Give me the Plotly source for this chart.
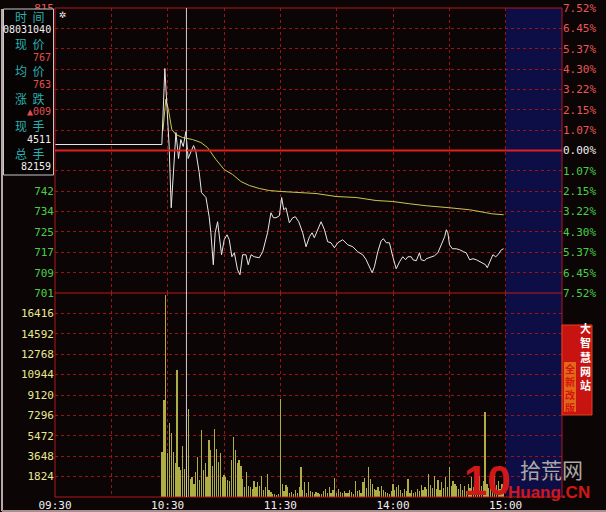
import plotly.graph_objects as go

W, H = 606, 512

# ---------------- data ----------------
BASE_PRICE = 758
PCT_STEPS = [-7.52, -6.45, -5.37, -4.30, -3.22, -2.15, -1.07, 0.00,
             1.07, 2.15, 3.22, 4.30, 5.37, 6.45, 7.52]
PRICE_LABELS = ["701", "709", "717", "725", "734", "742", "750", "758",
                "766", "774", "782", "791", "799", "807", "815"]
PCT_LABELS = ["7.52%", "6.45%", "5.37%", "4.30%", "3.22%", "2.15%", "1.07%", "0.00%",
              "1.07%", "2.15%", "3.22%", "4.30%", "5.37%", "6.45%", "7.52%"]

VOL_TICKS = [1824, 3648, 5472, 7296, 9120, 10944, 12768, 14592, 16416]
VOL_LABELS = ["1824", "3648", "5472", "7296", "9120", "10944", "12768", "14592", "16416"]
VOL_MAX = 18240

TIME_GRID = [0, 30, 60, 90, 120, 150, 180, 210, 240, 270]
TIME_LABELS = ["09:30", "", "10:30", "", "11:30", "", "14:00", "", "15:00", ""]
SESSION_END = 240
AXIS_END = 270
CURSOR_T = 70

# minutes after 09:30 / price (x0.01 yuan)
PRICE_T = [0, 56.9, 58.5, 59.4, 60.8, 61.9, 63.8, 64.4, 65.8, 67.0, 68.3, 69.7, 70.9, 72.4,
           73.8, 75.0, 76.8, 78.0, 80.4, 82.1, 83.0, 84.3, 85.3, 86.6, 87.8, 88.7, 90.1,
           91.6, 92.8, 94.2, 95.5, 97.2, 98.5, 99.9, 101.7, 102.9, 104.4, 106.1, 108.8,
           110.6, 113.2, 115.0, 116.3, 117.7, 119.5, 120.7, 121.8, 123.0, 124.8, 126.6,
           128.0, 129.8, 131.9, 133.7, 135.5, 136.9, 138.1, 139.9, 141.7, 143.5, 145.2,
           147.0, 148.8, 150.6, 153.2, 155.9, 158.6, 161.2, 163.9, 165.7, 167.5, 168.9,
           170.1, 171.9, 173.7, 174.9, 176.4, 178.1, 179.9, 181.7, 183.5, 185.2, 186.7,
           187.9, 189.7, 190.6, 192.4, 194.1, 195.0, 196.8, 197.7, 200.4, 202.1, 203.9,
           205.7, 207.5, 208.4, 209.2, 210.1, 211.6, 213.7, 215.5, 217.6, 219.0, 220.8,
           222.6, 224.4, 226.1, 227.9, 229.3, 230.2, 231.5, 232.4, 233.2, 234.7, 235.9,
           237.7, 238.9]
PRICE_V = [760.4, 760.4, 790.8, 778.5, 759.6, 735.1, 755.6, 765.2, 754.8, 762.4, 759.6, 765.6,
           754.8, 757.6, 760.0, 757.6, 749.2, 741.2, 739.2, 731.5, 725.1, 712.3, 725.1, 729.5,
           720.3, 716.3, 722.3, 724.3, 722.3, 715.5, 717.1, 710.3, 708.3, 716.3, 716.3, 712.3,
           716.3, 715.5, 715.1, 717.5, 725.1, 733.1, 731.1, 731.1, 731.9, 739.2, 734.3, 735.1,
           729.1, 731.1, 731.5, 729.5, 725.1, 719.5, 723.5, 725.1, 723.1, 726.3, 729.5, 726.3,
           721.5, 721.1, 719.1, 721.1, 722.3, 720.3, 719.5, 717.5, 716.3, 714.3, 711.1, 709.1,
           711.5, 717.5, 721.9, 722.7, 721.1, 721.1, 715.5, 710.7, 713.5, 715.5, 714.3, 715.5,
           715.5, 714.3, 713.9, 717.1, 714.3, 713.9, 714.7, 715.5, 715.9, 717.1, 720.3, 723.5,
           726.3, 725.1, 720.3, 718.7, 718.7, 718.3, 717.5, 717.1, 714.3, 714.7, 714.3, 713.5,
           712.7, 712.3, 711.1, 713.5, 715.5, 716.3, 715.5, 716.3, 718.3, 718.7]

AVG_T = [57.5, 59.0, 60.4, 62.2, 64.4, 67.9, 73.2, 77.7, 81.2, 85.7, 90.1, 94.6, 99.0, 103.5,
         108.8, 114.1, 120.4, 130.1, 139.0, 149.7, 160.4, 171.0, 179.9, 188.8, 197.7, 210.1,
         220.8, 229.7, 232.4, 238.9]
AVG_V = [766.0, 778.5, 774.4, 766.4, 764.4, 763.2, 762.4, 761.2, 759.2, 754.4, 750.4, 748.4,
         745.6, 744.0, 742.8, 742.0, 741.6, 741.2, 740.8, 739.6, 739.2, 738.0, 737.6, 736.7,
         735.9, 735.1, 734.3, 733.1, 732.7, 732.3]

VOL_START = 57
VOL = [4000, 8700, 18100, 3900, 6600, 5700, 4000, 3000, 11400, 2700, 2400, 4600, 2500, 4500,
       7900, 1600, 1800, 1200, 2200, 3600, 1500, 6000, 2400, 3000, 1800, 5100, 4200, 2800,
       6100, 4300, 3100, 3900, 1800, 2000, 1800, 1500, 1400, 3300, 5400, 4200, 3000, 3300,
       2800, 1600, 900, 2200, 1000, 900, 700, 1400, 900, 1300, 1000, 1900, 650, 850, 2100,
       600, 450, 250, 300, 200, 250, 8800, 1200, 500, 1100, 900, 400, 450, 300, 600, 350,
       900, 2700, 650, 1300, 400, 1300, 500, 450, 300, 450, 350, 250, 300, 500, 750, 400,
       900, 350, 600, 1700, 400, 750, 450, 350, 500, 400, 350, 600, 450, 300, 1400, 500,
       650, 400, 1300, 1700, 800, 2700, 1600, 1200, 700, 600, 900, 500, 1000, 600, 450, 350,
       300, 500, 1200, 600, 900, 1100, 650, 400, 750, 500, 1600, 400, 600, 350, 450, 750,
       500, 1100, 600, 900, 700, 2100, 1100, 800, 1900, 700, 1500, 600, 1300, 800, 1800,
       900, 2700, 1000, 1400, 1200, 1000, 700, 1200, 600, 950, 500, 1200, 800, 1800, 900,
       2200, 1300, 1900, 1000, 1400, 7600, 1200, 800, 1500, 900, 2000, 1100, 1400, 700,
       1200, 900]
VOL_T = [VOL_START + i for i in range(len(VOL))]

INFO_ROWS = [("时  间", "08031040", "#f0f0f0"),
             ("现  价", "767", "#e05050"),
             ("均  价", "763", "#e05050"),
             ("涨  跌", "▲009", "#e05050"),
             ("现  手", "4511", "#f0f0f0"),
             ("总  手", "82159", "#f0f0f0")]

# ---------------- styling helpers ----------------
BG = "#0c0505"
GRID = "#9a1414"
RED_LBL = "#e85858"
GRN_LBL = "#48d048"
WHT_LBL = "#f0f0f0"
YEL_LBL = "#e8e890"
MONO = "DejaVu Sans Mono"
CJK = "Noto Sans CJK SC"


def px(x):
    return x / W


def py(y):
    return 1 - y / H


PLOT_L, PLOT_R = 55, 562
PRICE_TOP, PRICE_BOT, VOL_BOT = 8, 293, 497
BOX_TOP, BOX_BOT = 9, 175

price_ticks = [BASE_PRICE * (1 + p / 100) for p in PCT_STEPS]


def price_to_px(v):
    lo, hi = price_ticks[0], price_ticks[-1]
    return PRICE_BOT - (v - lo) / (hi - lo) * (PRICE_BOT - PRICE_TOP)


pct_text, price_text = [], []
for p, lab, plab, v in zip(PCT_STEPS, PCT_LABELS, PRICE_LABELS, price_ticks):
    c = RED_LBL if p > 0 else (WHT_LBL if p == 0 else GRN_LBL)
    pct_text.append(f'<span style="color:{c}">{lab}</span>')
    yy = price_to_px(v)
    hidden = BOX_TOP < yy < BOX_BOT  # covered by the info box in the reference
    price_text.append("" if hidden else f'<span style="color:{c}">{plab}</span>')

fig = go.Figure()

fig.add_trace(go.Bar(x=VOL_T, y=VOL, xaxis="x2", yaxis="y2", width=0.65,
                     marker=dict(color="#aeae44", line=dict(width=0)), hoverinfo="skip"))
fig.add_trace(go.Scatter(x=AVG_T, y=AVG_V, mode="lines", xaxis="x", yaxis="y",
                         line=dict(color="#c8c850", width=1), hoverinfo="skip"))
fig.add_trace(go.Scatter(x=PRICE_T, y=PRICE_V, mode="lines", xaxis="x", yaxis="y",
                         line=dict(color="#e8e8e8", width=1), hoverinfo="skip"))
fig.add_trace(go.Scatter(x=[None], y=[None], xaxis="x", yaxis="y3", hoverinfo="skip"))

xdom = [px(PLOT_L), px(PLOT_R)]
common_x = dict(range=[0, AXIS_END], tickvals=TIME_GRID, showgrid=True, gridcolor=GRID,
                griddash="dot", gridwidth=1, zeroline=False, showline=False, ticks="",
                automargin=False, fixedrange=True)

fig.update_layout(
    width=W, height=H, margin=dict(l=0, r=0, t=0, b=0),
    paper_bgcolor=BG, plot_bgcolor=BG, showlegend=False, bargap=0, hovermode=False,
    xaxis=dict(domain=xdom, anchor="y", showticklabels=False, **common_x),
    xaxis2=dict(domain=xdom, anchor="y2", matches="x", ticktext=TIME_LABELS,
                showticklabels=True, tickfont=dict(family=MONO, size=11, color="#f0f0f0"),
                **common_x),
    yaxis=dict(domain=[py(PRICE_BOT), py(PRICE_TOP)], range=[price_ticks[0], price_ticks[-1]],
               tickvals=price_ticks, ticktext=price_text, showgrid=True, gridcolor=GRID,
               griddash="dot", zeroline=False, ticks="", automargin=False, fixedrange=True,
               tickfont=dict(family=MONO, size=11), anchor="x"),
    yaxis3=dict(overlaying="y", side="right", anchor="x", range=[price_ticks[0], price_ticks[-1]],
                tickvals=price_ticks, ticktext=pct_text, showgrid=False, zeroline=False,
                ticks="", automargin=False, fixedrange=True, tickfont=dict(family=MONO, size=11)),
    yaxis2=dict(domain=[py(VOL_BOT), py(PRICE_BOT)], range=[0, VOL_MAX], tickvals=VOL_TICKS,
                ticktext=VOL_LABELS, showgrid=True, gridcolor=GRID, griddash="dot",
                zeroline=False, ticks="", automargin=False, anchor="x2", fixedrange=True,
                tickfont=dict(family=MONO, size=11, color=YEL_LBL)),
)

shapes = []
# after-close region (blue)
for xr, yr in (("x", "y domain"), ("x2", "y2 domain")):
    shapes.append(dict(type="rect", xref=xr, yref=yr, x0=SESSION_END, x1=AXIS_END, y0=0, y1=1,
                       fillcolor="#0e0e46", line=dict(width=0), layer="below"))
# frame, divider, zero line
shapes.append(dict(type="rect", xref="paper", yref="paper", x0=px(PLOT_L), x1=px(PLOT_R),
                   y0=py(VOL_BOT), y1=py(PRICE_TOP), line=dict(color="#b01818", width=1)))
shapes.append(dict(type="line", xref="paper", yref="paper", x0=px(PLOT_L), x1=px(PLOT_R),
                   y0=py(PRICE_BOT), y1=py(PRICE_BOT), line=dict(color="#c01818", width=1)))
shapes.append(dict(type="line", xref="paper", yref="y", x0=px(PLOT_L), x1=px(PLOT_R),
                   y0=BASE_PRICE, y1=BASE_PRICE, line=dict(color="#e02020", width=2)))
# cursor line
shapes.append(dict(type="line", xref="x", yref="paper", x0=CURSOR_T, x1=CURSOR_T,
                   y0=py(VOL_BOT), y1=py(PRICE_TOP), line=dict(color="#d0d0d0", width=1)))
# outer window border
shapes.append(dict(type="line", xref="paper", yref="paper", x0=px(2), x1=px(2), y0=py(9),
                   y1=py(511), line=dict(color="#b8a8a8", width=2)))
shapes.append(dict(type="line", xref="paper", yref="paper", x0=px(2), x1=1, y0=py(511),
                   y1=py(511), line=dict(color="#a89090", width=2)))
# info box
shapes.append(dict(type="rect", xref="paper", yref="paper", x0=px(3.5), x1=px(53.5),
                   y0=py(BOX_BOT), y1=py(BOX_TOP), fillcolor="#070303",
                   line=dict(color="#c8c8c8", width=1), layer="above"))
# banner
shapes.append(dict(type="rect", xref="paper", yref="paper", x0=px(562), x1=px(592),
                   y0=py(415), y1=py(325), fillcolor="#c81410",
                   line=dict(color="#e04020", width=1), layer="above"))
shapes.append(dict(type="rect", xref="paper", yref="paper", x0=px(564), x1=px(576),
                   y0=py(412), y1=py(362), fillcolor="#f0a020", opacity=0.6,
                   line=dict(width=0), layer="above"))
fig.update_layout(shapes=shapes)

ann = []
label_y = [16, 43, 70, 98, 125, 153]
value_y = [29, 57, 84, 111, 139, 166]
for (lab, val, col), ly, vy in zip(INFO_ROWS, label_y, value_y):
    ann.append(dict(x=px(29), y=py(ly), xref="paper", yref="paper", text=lab, showarrow=False,
                    font=dict(family=CJK, size=12, color="#28b0b0"), xanchor="center",
                    yanchor="middle"))
    ann.append(dict(x=px(53), y=py(vy), xref="paper", yref="paper", text=val, showarrow=False,
                    font=dict(family=MONO, size=10, color=col), xanchor="right",
                    yanchor="middle"))
ann.append(dict(x=px(57), y=py(8), xref="paper", yref="paper", text="✲", showarrow=False,
                font=dict(family="DejaVu Sans", size=9, color="#f0f0f0")))
ann.append(dict(x=px(585), y=py(356), xref="paper", yref="paper",
                text="<b>大<br>智<br>慧<br>网<br>站</b>", showarrow=False,
                font=dict(family=CJK, size=11, color="#ffffff"), xanchor="center",
                yanchor="middle"))
ann.append(dict(x=px(570), y=py(388), xref="paper", yref="paper",
                text="<b>全<br>新<br>改<br>版</b>", showarrow=False,
                font=dict(family=CJK, size=10, color="#d81010"), xanchor="center",
                yanchor="middle"))
# watermark
ann.append(dict(x=px(487), y=py(480), xref="paper", yref="paper", text="<b>10</b>",
                showarrow=False, font=dict(family="Liberation Sans", size=42, color="#d01818"),
                xanchor="center", yanchor="middle"))
ann.append(dict(x=px(551), y=py(469), xref="paper", yref="paper", text="拾荒网",
                showarrow=False, font=dict(family=CJK, size=21, color="#a8a8a8"),
                xanchor="center", yanchor="middle"))
ann.append(dict(x=px(549), y=py(492), xref="paper", yref="paper", text="<b>Huang.CN</b>",
                showarrow=False, font=dict(family="Liberation Sans", size=17, color="#d01818"),
                xanchor="center", yanchor="middle"))
fig.update_layout(annotations=ann)

fig.write_html("out.html", config={"displayModeBar": False, "staticPlot": True},
               post_script="document.body.style.margin='0';document.body.style.overflow='hidden';")
